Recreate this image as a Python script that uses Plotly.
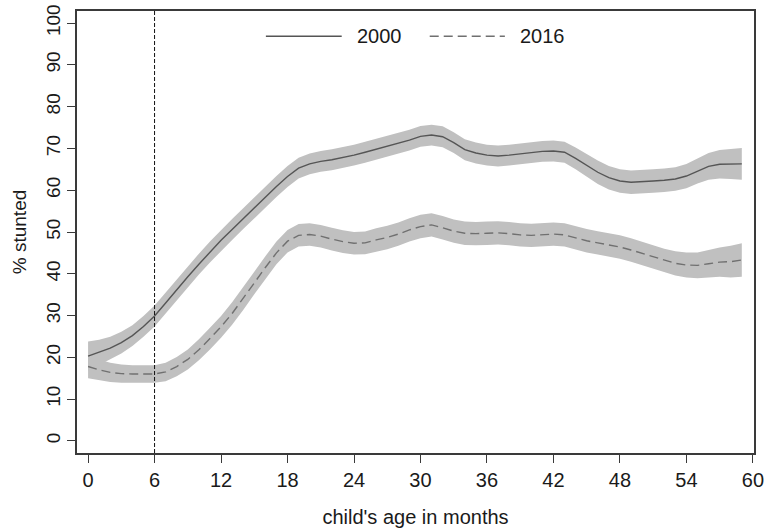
import plotly.graph_objects as go

# Child age in months
age = list(range(0, 60))

# Share of children stunted (%), smoothed estimates by survey year
stunted_2000 = [20.3, 21.2, 22.2, 23.5, 25.2, 27.4, 29.9, 33.0, 36.2, 39.3,
                42.3, 45.2, 48.0, 50.6, 53.2, 55.8, 58.3, 60.9, 63.3, 65.3,
                66.3, 66.9, 67.3, 67.8, 68.4, 69.1, 69.8, 70.5, 71.2, 72.0,
                72.9, 73.2, 72.8, 71.4, 69.7, 68.9, 68.4, 68.2, 68.4, 68.7,
                69.0, 69.3, 69.4, 69.1, 67.6, 65.9, 64.3, 63.0, 62.2, 61.9,
                62.0, 62.2, 62.4, 62.7, 63.4, 64.6, 65.7, 66.2, 66.3, 66.3]
stunted_2016 = [17.8, 17.0, 16.4, 16.1, 16.0, 16.0, 16.0, 16.5, 17.8, 19.5,
                21.8, 24.5, 27.3, 30.5, 34.0, 37.8, 41.5, 45.0, 47.8, 49.2,
                49.4, 49.0, 48.3, 47.7, 47.3, 47.4, 48.1, 48.7, 49.5, 50.5,
                51.3, 51.7, 51.0, 50.2, 49.7, 49.6, 49.7, 49.8, 49.6, 49.3,
                49.2, 49.3, 49.5, 49.3, 48.6, 47.9, 47.4, 46.9, 46.4, 45.7,
                44.9, 44.0, 43.2, 42.5, 42.1, 42.0, 42.4, 42.8, 42.9, 43.3]

# Half-width of the 95% confidence interval (percentage points)
ci_2000 = [3.5, 3.0, 2.7, 2.6, 2.5, 2.5, 2.5, 2.5, 2.5, 2.5,
           2.5, 2.5, 2.5, 2.5, 2.5, 2.5, 2.5, 2.5, 2.5, 2.5,
           2.5, 2.5, 2.5, 2.5, 2.5, 2.5, 2.5, 2.5, 2.5, 2.5,
           2.5, 2.5, 2.5, 2.5, 2.5, 2.5, 2.5, 2.5, 2.5, 2.5,
           2.5, 2.5, 2.5, 2.5, 2.6, 2.7, 2.8, 2.8, 2.8, 2.8,
           2.8, 2.8, 2.8, 2.8, 2.9, 3.0, 3.2, 3.4, 3.6, 3.8]
ci_2016 = [2.8, 2.5, 2.3, 2.2, 2.1, 2.1, 2.1, 2.2, 2.3, 2.4,
           2.5, 2.6, 2.6, 2.7, 2.7, 2.7, 2.7, 2.7, 2.7, 2.7,
           2.7, 2.7, 2.7, 2.7, 2.7, 2.7, 2.8, 2.8, 2.8, 2.8,
           2.8, 2.8, 2.8, 2.8, 2.8, 2.8, 2.8, 2.8, 2.8, 2.8,
           2.8, 2.8, 2.8, 2.8, 2.8, 2.8, 2.8, 2.8, 2.8, 2.8,
           2.8, 2.8, 2.8, 2.9, 3.0, 3.1, 3.3, 3.5, 3.8, 4.0]

x_ticks = [0, 6, 12, 18, 24, 30, 36, 42, 48, 54, 60]
y_ticks = [0, 10, 20, 30, 40, 50, 60, 70, 80, 90, 100]
cutoff_month = 6

BAND = "rgb(192,192,192)"
FONT = "Liberation Sans, Arial, sans-serif"
TXT = "#1a1a1a"

fig = go.Figure()

# Confidence bands (drawn first so the lines sit on top)
for est, ci in ((stunted_2016, ci_2016), (stunted_2000, ci_2000)):
    upper = [v + h for v, h in zip(est, ci)]
    lower = [v - h for v, h in zip(est, ci)]
    fig.add_trace(go.Scatter(x=age, y=upper, mode="lines",
                             line=dict(width=0, color=BAND),
                             hoverinfo="skip", showlegend=False))
    fig.add_trace(go.Scatter(x=age, y=lower, mode="lines",
                             line=dict(width=0, color=BAND),
                             fill="tonexty", fillcolor=BAND,
                             hoverinfo="skip", showlegend=False))

fig.add_trace(go.Scatter(x=age, y=stunted_2000, mode="lines", name="2000",
                         line=dict(color="#555555", width=1.4),
                         showlegend=False))
fig.add_trace(go.Scatter(x=age, y=stunted_2016, mode="lines", name="2016",
                         line=dict(color="#707070", width=1.4, dash="9px,5px"),
                         showlegend=False))

# Vertical reference line at six months
fig.add_shape(type="line", xref="x", yref="paper",
              x0=cutoff_month, x1=cutoff_month, y0=0, y1=1,
              line=dict(color="#111111", width=1, dash="4px,2px"),
              layer="above")

# Legend keys drawn inside the plot area
legend_y = 0.943
fig.add_shape(type="line", xref="paper", yref="paper",
              x0=0.279, x1=0.391, y0=legend_y, y1=legend_y,
              line=dict(color="#555555", width=1.4))
fig.add_shape(type="line", xref="paper", yref="paper",
              x0=0.521, x1=0.632, y0=legend_y, y1=legend_y,
              line=dict(color="#707070", width=1.4, dash="9px,5px"))
fig.add_annotation(xref="paper", yref="paper", x=0.411, y=legend_y,
                   text="2000", showarrow=False, xanchor="left", yanchor="middle",
                   font=dict(family=FONT, size=20, color=TXT))
fig.add_annotation(xref="paper", yref="paper", x=0.651, y=legend_y,
                   text="2016", showarrow=False, xanchor="left", yanchor="middle",
                   font=dict(family=FONT, size=20, color=TXT))

axis_common = dict(showline=True, linecolor="#3a3a3a", linewidth=1.5,
                   mirror=True, showgrid=False, zeroline=False,
                   ticks="outside", ticklen=8, tickwidth=1.3,
                   tickcolor="#3a3a3a", automargin=False)

fig.update_xaxes(range=[-1.0, 60.1], tickvals=x_ticks,
                 tickfont=dict(family=FONT, size=20, color=TXT),
                 title=dict(text="child's age in months", standoff=30,
                            font=dict(family=FONT, size=20, color=TXT)),
                 **axis_common)
fig.update_yaxes(range=[-2.9, 102.9], tickvals=y_ticks, tickangle=-90,
                 tickfont=dict(family=FONT, size=19, color=TXT),
                 title=dict(text="% stunted", standoff=11,
                            font=dict(family=FONT, size=19, color=TXT)),
                 **axis_common)

fig.update_layout(width=765, height=528,
                  margin=dict(l=77, r=11, t=11, b=75),
                  paper_bgcolor="white", plot_bgcolor="white",
                  showlegend=False)

fig.write_html("out.html")
